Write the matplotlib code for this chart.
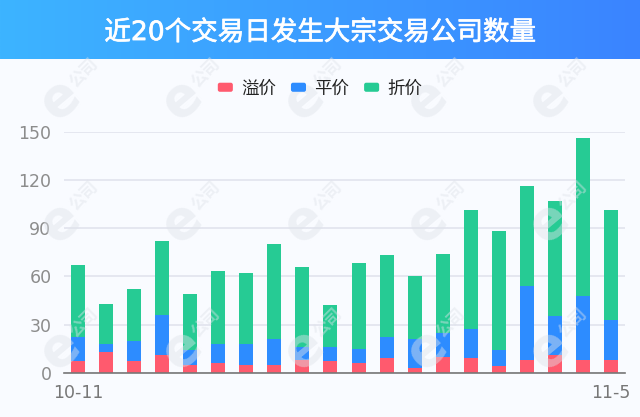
import numpy as np
from matplotlib import pyplot as plt
from matplotlib import patheffects
from matplotlib.legend_handler import HandlerPatch
from matplotlib.patches import FancyBboxPatch, Patch

plt.rcParams['font.family'] = ['Noto Sans CJK SC', 'DejaVu Sans']

title = '近20个交易日发生大宗交易公司数量'
labels = ['溢价', '平价', '折价']
yticks = [0, 30, 60, 90, 120, 150]
xticklabels = {0: '10-11', 19: '11-5'}

premium = np.array([7, 13, 7, 11, 5, 6, 5, 5, 8, 7, 6, 9, 3, 10, 9, 4, 8, 11, 8, 8])
flat_top = np.array([22, 18, 20, 36, 14, 18, 18, 21, 16, 16, 15, 22, 21, 25, 27, 14, 54, 35, 48, 33])
total = np.array([67, 43, 52, 82, 49, 63, 62, 80, 66, 42, 68, 73, 60, 74, 101, 88, 116, 107, 146, 101])
flat = flat_top - premium
discount = total - flat_top

red = '#ff5a6e'
blue = '#2d8cff'
green = '#26cb94'
bg = '#f9fbff'
W, H = 640, 417


def round_handle(legend, orig_handle, xdescent, ydescent, width, height, fontsize):
    return FancyBboxPatch((-xdescent, -ydescent), width, height,
                          boxstyle='round,pad=0,rounding_size=1.5', mutation_aspect=1)


fig = plt.figure(figsize=(W / 100, H / 100), dpi=100, facecolor=bg)

# header with gradient
head = fig.add_axes([0, 1 - 59 / H, 1, 59 / H])
c0 = np.array([0x3d, 0xb4, 0xff]) / 255
c1 = np.array([0x3a, 0x84, 0xff]) / 255
t = np.linspace(0, 1, 256)[None, :, None]
head.imshow(c0 + (c1 - c0) * t, aspect='auto', extent=(0, 1, 0, 1))
head.axis('off')
head.text(0.5, 0.44, title, color='white', fontsize=19.1,
          family=['DejaVu Sans', 'Noto Sans CJK SC'], ha='center', va='center',
          path_effects=[patheffects.withStroke(linewidth=0.5, foreground='white')])

ax = fig.add_axes([64 / W, 1 - 372.7 / H, 561 / W, (372.7 - 131.7) / H], facecolor=bg)
x = np.arange(len(total))
ax.bar(x, premium, 0.5, color=red, zorder=3)
ax.bar(x, flat, 0.5, bottom=premium, color=blue, zorder=3)
ax.bar(x, discount, 0.5, bottom=flat_top, color=green, zorder=3)

ax.set_xlim(-0.5, 19.5)
ax.set_ylim(0, 150)
ax.set_yticks(yticks)
ax.set_xticks(list(xticklabels), list(xticklabels.values()))
ax.tick_params(length=0)
ax.tick_params(axis='y', labelsize=12.5, labelcolor='#8c8c8c', pad=9)
ax.tick_params(axis='x', labelsize=12.5, labelcolor='#777777', pad=8)
ax.grid(True, axis='y', color='#e1e4ee', lw=1.2, zorder=0)
ax.set_axisbelow(True)
for s in ['top', 'left', 'right']:
    ax.spines[s].set_visible(False)
ax.spines['bottom'].set_color('#777777')
ax.spines['bottom'].set_linewidth(1.2)
ax.spines['bottom'].set_zorder(4)
for lab in ax.get_yticklabels() + ax.get_xticklabels():
    lab.set_fontfamily('DejaVu Sans')

handles = [Patch(facecolor=c, edgecolor='none') for c in [red, blue, green]]
fig.legend(handles=handles, labels=labels, loc='center', bbox_to_anchor=(320 / W, 1 - 88.5 / H),
           ncol=3, frameon=False, fontsize=12.6, labelcolor='#222222',
           handlelength=0.86, handleheight=0.42, handletextpad=0.46, columnspacing=0.86,
           handler_map={Patch: HandlerPatch(patch_func=round_handle)})

# watermark
wm_x = [60, 182, 304, 427, 549]
wm_y = [98, 221, 348]
for wx in wm_x:
    for wy in wm_y:
        fig.text(wx / W, 1 - wy / H, 'e', color='#dfe3ea', alpha=0.45, fontsize=38, fontweight='bold',
                 family='DejaVu Sans', rotation=40, ha='center', va='center', zorder=5)
        fig.text((wx + 24) / W, 1 - (wy - 25) / H, '公司', color='#dfe3ea', alpha=0.45, fontsize=12,
                 fontweight='bold', rotation=45, ha='center', va='center', zorder=5)

fig.savefig('out.png', dpi=100, facecolor=bg)
